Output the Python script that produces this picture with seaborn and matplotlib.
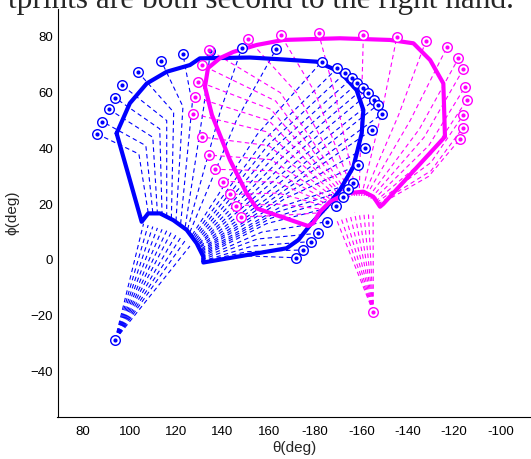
import numpy as np
import pandas as pd
import matplotlib
matplotlib.use("Agg")
import matplotlib.pyplot as plt
import seaborn as sns

# ---------------- data (theta unwrapped: 200 == -160 deg) ----------------
x_ticks = [80, 100, 120, 140, 160, 180, 200, 220, 240, 260]
x_tick_labels = ["80", "100", "120", "140", "160", "-180", "-160", "-140", "-120", "-100"]
y_ticks = [-40, -20, 0, 20, 40, 60, 80]

# thick blue boundary
blue_bnd_theta = [94.4, 100.1, 107.4, 116.0, 126.0, 130.3, 151.9, 166.3, 180.7, 190.7, 197.9,
                  200.8, 200.1, 196.5, 190.7, 185.0, 178.5, 172.8, 167.7, 131.8, 131.8, 128.9,
                  124.6, 118.8, 113.1, 108.0, 105.2, 100.1, 94.4]
blue_bnd_phi = [45.4, 56.2, 63.3, 67.5, 69.9, 72.3, 72.6, 71.9, 71.1, 67.5, 60.9,
                53.8, 45.4, 33.4, 25.1, 19.1, 13.2, 7.2, 4.2, -0.9, 1.2, 6.0,
                10.8, 14.3, 16.7, 16.7, 13.7, 28.7, 45.4]

# thick magenta boundary
mag_bnd_theta = [132.5, 133.8, 139.0, 144.7, 154.8, 166.3, 190.7, 212.3, 222.4, 229.6, 235.3,
                 236.0, 209.4, 208.0, 205.1, 200.8, 193.6, 186.4, 182.1, 179.2, 176.9, 154.8,
                 150.5, 143.3, 135.5, 132.5]
mag_bnd_phi = [62.1, 68.8, 72.4, 74.6, 77.1, 78.9, 79.5, 78.9, 77.7, 71.7, 63.3,
               44.2, 20.1, 19.1, 22.7, 24.5, 23.9, 20.9, 17.3, 13.2, 12.2, 18.5,
               23.9, 35.8, 52.0, 62.1]

# blue end-point markers
blue_pt_theta = [86.0, 88.3, 91.2, 93.8, 96.7, 103.6, 113.6, 123.0, 134.8, 148.3, 163.1,
                 182.8, 189.4, 192.9, 195.8, 198.2, 200.8, 203.0, 205.4, 207.0, 208.7,
                 204.4, 201.7, 198.4, 196.2, 194.3, 191.9, 189.0, 185.0, 181.4, 178.1, 174.9, 171.8]
blue_pt_phi = [45.2, 49.6, 54.0, 58.1, 62.7, 67.4, 71.4, 73.8, 74.8, 75.9, 75.5,
               71.1, 68.7, 67.0, 65.1, 63.3, 61.5, 59.7, 57.3, 55.6, 52.3,
               46.6, 40.2, 34.1, 27.6, 25.3, 22.7, 19.4, 13.7, 9.6, 6.6, 3.6, 0.8]
# blue trajectory bends and hub ends (one per marker)
blue_mid_theta = [104, 107, 110, 113, 116, 119, 123, 127, 132, 139, 146,
                  155, 158, 160, 162, 164, 166, 168, 170, 172, 174,
                  172, 170, 167, 165, 163, 161, 159, 157, 155, 153, 151, 149]
blue_mid_phi = [38, 41, 44, 47, 50, 53, 55, 56, 55, 53, 50,
                45, 43, 41.5, 40, 38.5, 37, 35.5, 34, 32.5, 31,
                28, 25, 22, 19, 17, 15, 13, 10, 7.5, 5, 3, 1.5]
blue_hub_theta = [108, 110, 112, 114, 116, 118, 120, 122, 124, 125, 126,
                  127, 127.5, 128, 128.5, 129, 129.5, 130, 130, 130.5, 130.5,
                  131, 131, 131, 131, 131, 131, 131, 131, 131, 131, 131, 131]
blue_hub_phi = [17, 17, 16.5, 16, 15.5, 15, 14, 13, 12, 11, 10,
                9, 8.5, 8, 7.5, 7, 6.5, 6, 5.5, 5, 4.5,
                4, 3.5, 3, 2.5, 2, 1.5, 1, 0.5, 0, -0.5, -0.5, -0.5]
# blue base point and fan ends
blue_base = (93.7, -28.7)
blue_fan_theta = [106, 108, 110, 112, 114, 116, 118, 120, 122, 124, 126]
blue_fan_phi = [13, 12.5, 12, 11.5, 11, 10.5, 10, 9, 8, 7, 5]

# magenta end-point markers
mag_pt_theta = [148.0, 145.9, 143.4, 140.4, 137.0, 134.3, 131.1, 127.5, 128.2, 129.6, 131.1,
                134.2, 151.2, 165.2, 181.5, 200.8, 215.2, 227.8, 237.0, 241.8, 243.9,
                244.7, 245.4, 243.9, 243.7, 242.5]
mag_pt_phi = [15.4, 19.5, 23.5, 28.1, 32.5, 37.6, 44.1, 52.4, 58.4, 64.0, 69.9,
              75.4, 79.1, 80.6, 81.3, 80.6, 79.8, 78.6, 76.5, 72.3, 68.4,
              62.1, 57.3, 52.0, 47.4, 43.4]
mag_mid_theta = [165, 165, 164, 163, 162, 161, 160, 159, 160, 161, 163,
                 165, 172, 180, 189, 200, 209, 216, 221, 225, 227,
                 229, 230, 230, 230, 229]
mag_mid_phi = [16, 20, 24, 28, 32, 36, 41, 46, 50, 54, 57,
               60, 60, 60, 58, 56, 54, 52, 50, 47, 44,
               41, 38, 35, 32, 30]
mag_hub_theta = [184, 185, 186, 187, 188, 189, 190, 191, 192, 193, 194,
                 195, 196, 197, 198, 199, 200, 201, 202, 203, 204,
                 205, 206, 206.5, 207, 207]
mag_hub_phi = [17, 18, 19, 19.5, 20, 20.5, 21, 21.5, 22, 22, 22.5,
               22.5, 23, 23, 23, 23, 23, 23, 23, 22.5, 22,
               21.5, 21, 20.5, 20, 19.5]
mag_base = (205.1, -18.7)
mag_fan_theta = [189, 191, 193, 195, 197, 199, 201, 203, 205]
mag_fan_phi = [15, 15.5, 16, 16.5, 17, 17, 17, 16.5, 16]

BLUE = "#0000ff"
MAGENTA = "#ff00ff"

# ---------------- figure ----------------
sns.set_style("white")
plt.rcParams["font.family"] = ["Liberation Sans", "DejaVu Sans"]

fig = plt.figure(figsize=(5.31, 4.59), dpi=100)
ax = fig.add_axes([57.5 / 531, (459 - 416.7) / 459, (531 - 57.5) / 531, (416.7 - 9) / 459])


def traj_frame(pt_t, pt_p, mid_t, mid_p, hub_t, hub_p):
    rows = []
    for i in range(len(pt_t)):
        rows.append((i, 0, hub_t[i], hub_p[i]))
        rows.append((i, 1, mid_t[i], mid_p[i]))
        rows.append((i, 2, pt_t[i], pt_p[i]))
    return pd.DataFrame(rows, columns=["ray", "k", "theta", "phi"])


def fan_frame(base, ft, fp):
    rows = []
    for i in range(len(ft)):
        rows.append((i, 0, base[0], base[1]))
        rows.append((i, 1, ft[i], fp[i]))
    return pd.DataFrame(rows, columns=["ray", "k", "theta", "phi"])


dash_kw = dict(linewidth=0.8, dashes=None)
for df, col in [
    (traj_frame(blue_pt_theta, blue_pt_phi, blue_mid_theta, blue_mid_phi, blue_hub_theta, blue_hub_phi), BLUE),
    (fan_frame(blue_base, blue_fan_theta, blue_fan_phi), BLUE),
    (traj_frame(mag_pt_theta, mag_pt_phi, mag_mid_theta, mag_mid_phi, mag_hub_theta, mag_hub_phi), MAGENTA),
    (fan_frame(mag_base, mag_fan_theta, mag_fan_phi), MAGENTA),
]:
    sns.lineplot(data=df, x="theta", y="phi", units="ray", estimator=None, sort=False,
                 color=col, linewidth=0.8, linestyle=(0, (4, 3)), ax=ax, zorder=2)

# thick boundaries
sns.lineplot(x=blue_bnd_theta, y=blue_bnd_phi, sort=False, estimator=None, color=BLUE,
             linewidth=3.0, ax=ax, zorder=4)
sns.lineplot(x=mag_bnd_theta, y=mag_bnd_phi, sort=False, estimator=None, color=MAGENTA,
             linewidth=3.0, ax=ax, zorder=4)

# markers: circle with centre dot
for tt, pp, col in [(blue_pt_theta + [blue_base[0]], blue_pt_phi + [blue_base[1]], BLUE),
                    (mag_pt_theta + [mag_base[0]], mag_pt_phi + [mag_base[1]], MAGENTA)]:
    sns.scatterplot(x=tt, y=pp, s=48, color="white", edgecolor=col, linewidth=1.0,
                    marker="o", ax=ax, zorder=5)
    sns.scatterplot(x=tt, y=pp, s=9, color=col, edgecolor=col, linewidth=0,
                    marker="o", ax=ax, zorder=6)

ax.set_xlim(68.9, 273.1)
ax.set_ylim(-56.2, 90)
ax.set_xticks(x_ticks)
ax.set_xticklabels(x_tick_labels)
ax.set_yticks(y_ticks)
ax.tick_params(direction="in", length=4.3, width=0.8, colors="black", labelsize=9.5,
               top=False, right=False)
ax.tick_params(axis="x", pad=7)
ax.tick_params(axis="y", pad=3)
for s in ["top", "right"]:
    ax.spines[s].set_visible(False)
for s in ["left", "bottom"]:
    ax.spines[s].set_color("black")
    ax.spines[s].set_linewidth(0.8)
ax.set_xlabel("θ(deg)", fontsize=11, labelpad=2)
ax.set_ylabel("ϕ(deg)", fontsize=11, labelpad=8)
ax.grid(False)

fig.text(8 / 531, 1 - 8 / 459, "tprints are both second to the right hand.",
         family=["Liberation Serif", "DejaVu Serif"], fontsize=22.5, va="baseline", ha="left")

fig.savefig("out.png", dpi=100)
